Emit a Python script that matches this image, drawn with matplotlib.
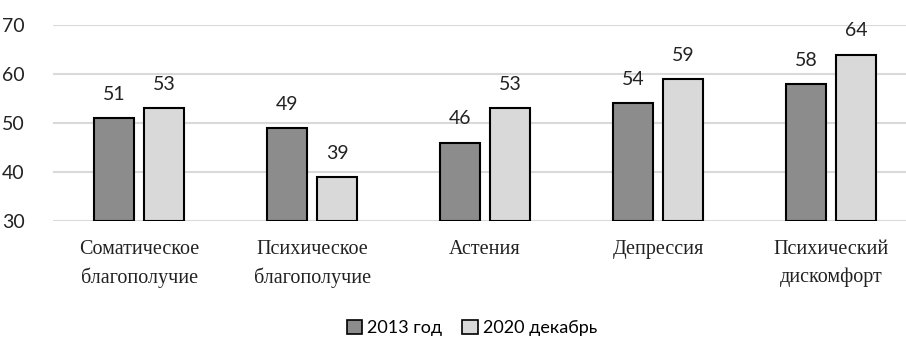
import matplotlib
matplotlib.use("Agg")
import matplotlib.pyplot as plt
import numpy as np
from matplotlib.patches import Patch

categories = ["Соматическое\nблагополучие", "Психическое\nблагополучие",
              "Астения", "Депрессия", "Психический\nдискомфорт"]
series_names = ["2013 год", "2020 декабрь"]
values_2013 = [51, 49, 46, 54, 58]
values_2020 = [53, 39, 53, 59, 64]
yticks = [30, 40, 50, 60, 70]

colors = ["#8c8c8c", "#d9d9d9"]
grid_color = "#d9d9d9"
num_font = "Lato"

fig = plt.figure(figsize=(9.06, 3.4), dpi=100)
ax = fig.add_axes([0.058, 0.35, 0.955, 0.576])

x = np.arange(len(categories))
width = 0.23
offset = 0.145

for vals, sign, col in [(values_2013, -1, colors[0]), (values_2020, 1, colors[1])]:
    ax.bar(x + sign * offset, np.array(vals) - 30, width, bottom=30,
           color=col, edgecolor="black", linewidth=1.5, zorder=3)
    for xi, v in zip(x + sign * offset, vals):
        ax.annotate(str(v), (xi, v), xytext=(0, 11), textcoords="offset points",
                    ha="center", va="bottom", fontsize=14, family=num_font,
                    color="#222222")

ax.set_xlim(-0.5, len(categories) - 0.5)
ax.set_ylim(30, 70)
ax.set_yticks(yticks)
ax.set_yticklabels([str(t) for t in yticks], fontsize=14, family=num_font,
                   color="#222222")
ax.set_xticks(x)
ax.set_xticklabels(categories, fontsize=14.5, family="Liberation Serif",
                   color="#222222", linespacing=1.55)
ax.tick_params(axis="both", length=0)
ax.tick_params(axis="y", pad=20)
ax.tick_params(axis="x", pad=14)
for s in ax.spines.values():
    s.set_visible(False)
ax.grid(axis="y", color=grid_color, linewidth=1.5, zorder=0)
ax.set_axisbelow(True)

handles = [Patch(facecolor=c, edgecolor="black", linewidth=1.2) for c in colors]
fig.legend(handles, series_names, loc="center", bbox_to_anchor=(0.521, 0.035),
           ncol=2, frameon=False, prop={"family": num_font, "size": 13},
           handlelength=0.85, handleheight=0.85, handletextpad=0.3,
           columnspacing=1.1)

fig.savefig("out.png", dpi=100)
